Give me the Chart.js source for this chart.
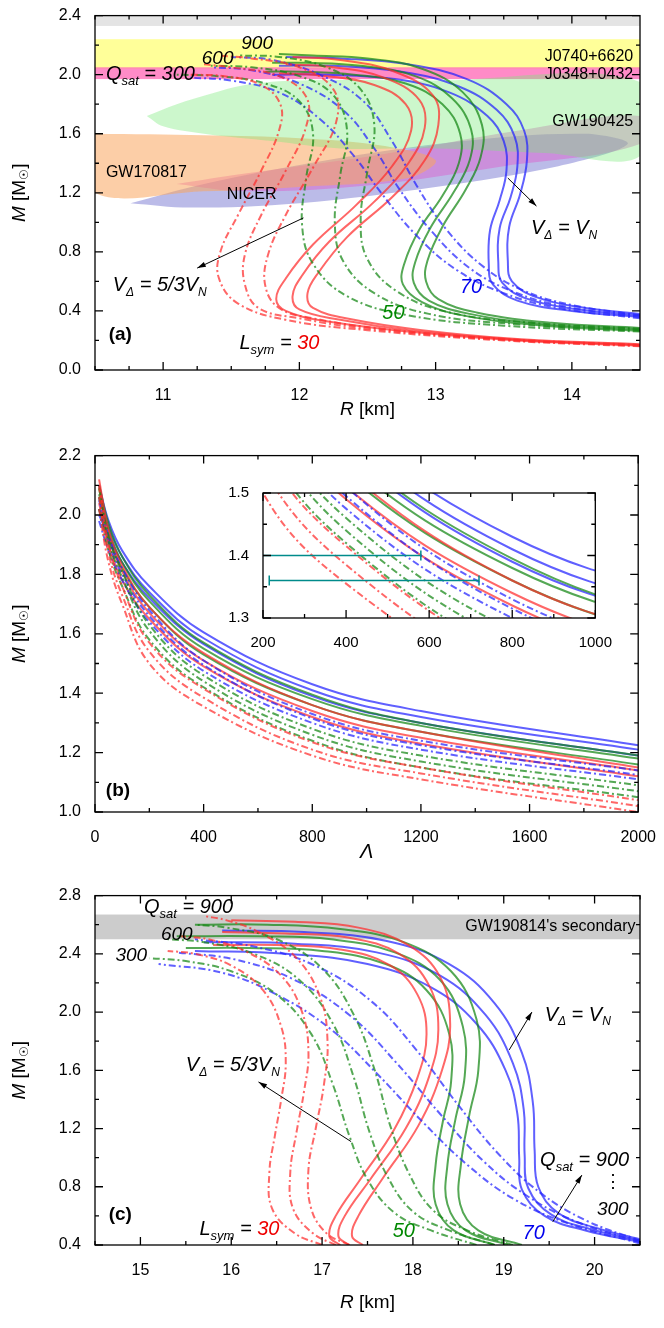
<!DOCTYPE html>
<html><head><meta charset="utf-8">
<script src="https://cdn.jsdelivr.net/npm/chart.js@4.4.1/dist/chart.umd.min.js"></script>
<style>
body{margin:0;background:#fff;width:664px;height:1328px;overflow:hidden;position:relative;font-family:"Liberation Sans",Arial,sans-serif}
.p{position:absolute}
</style></head><body>
<div class="p" style="left:0;top:0;width:664px;height:440px"><canvas id="ca"></canvas></div>
<div class="p" style="left:0;top:440px;width:664px;height:440px"><canvas id="cb"></canvas></div>
<div class="p" style="left:225px;top:478px;width:395px;height:175px"><canvas id="ci"></canvas></div>
<div class="p" style="left:0;top:880px;width:664px;height:448px"><canvas id="cc"></canvas></div>
<script>
// ---------- Panel (a): M-R, R in km ----------
const aXMajor=[11,12,13,14], aXMinor=[10.5,10.75,11.25,11.5,11.75,12.25,12.5,12.75,13.25,13.5,13.75,14.25];
const aYMajor=[0,0.4,0.8,1.2,1.6,2.0,2.4], aYMinor=[0.2,0.6,1.0,1.4,1.8,2.2];
const a_red_solid=[
 [[14.5,0.165],[13.6,0.2],[12.8,0.26],[12.2,0.33],[11.9,0.4],[11.83,0.48],[11.9,0.62],[12.1,0.85],[12.42,1.12],[12.68,1.38],[12.82,1.62],[12.78,1.8],[12.55,1.93],[12.2,1.99],[11.85,2.01]],
 [[14.5,0.17],[13.6,0.205],[12.8,0.27],[12.3,0.34],[12.0,0.41],[11.95,0.5],[12.02,0.64],[12.22,0.87],[12.55,1.14],[12.8,1.4],[12.92,1.64],[12.88,1.83],[12.62,1.98],[12.25,2.05],[11.9,2.07]],
 [[14.5,0.175],[13.6,0.21],[12.9,0.27],[12.4,0.34],[12.1,0.42],[12.06,0.52],[12.14,0.66],[12.35,0.9],[12.68,1.17],[12.92,1.42],[13.02,1.66],[12.98,1.86],[12.7,2.02],[12.3,2.1],[11.95,2.12]]];
const a_red_dd=[
 [[14.5,0.16],[13.5,0.2],[12.5,0.27],[11.9,0.34],[11.55,0.45],[11.41,0.62],[11.42,0.8],[11.55,1.05],[11.72,1.35],[11.85,1.62],[11.86,1.8],[11.72,1.93],[11.45,1.99],[11.2,2.0]],
 [[14.5,0.165],[13.5,0.205],[12.5,0.28],[12.0,0.35],[11.7,0.42],[11.6,0.58],[11.6,0.78],[11.72,1.05],[11.9,1.35],[12.05,1.65],[12.05,1.85],[11.85,1.99],[11.5,2.05],[11.3,2.07]],
 [[14.5,0.17],[13.5,0.21],[12.6,0.28],[12.1,0.35],[11.85,0.42],[11.75,0.57],[11.77,0.78],[11.9,1.05],[12.1,1.37],[12.27,1.68],[12.25,1.9],[12.0,2.05],[11.65,2.11],[11.4,2.13]]];
const a_green_solid=[
 [[14.5,0.265],[13.8,0.3],[13.2,0.37],[12.9,0.46],[12.76,0.58],[12.77,0.72],[12.88,0.95],[13.05,1.18],[13.17,1.4],[13.18,1.6],[13.05,1.8],[12.78,1.94],[12.4,2.0],[12.0,2.02],[11.75,2.02]],
 [[14.5,0.275],[13.8,0.31],[13.25,0.38],[12.95,0.47],[12.84,0.59],[12.85,0.73],[12.96,0.96],[13.13,1.2],[13.25,1.42],[13.26,1.63],[13.12,1.84],[12.85,1.99],[12.45,2.06],[12.05,2.08],[11.8,2.08]],
 [[14.5,0.285],[13.85,0.32],[13.3,0.39],[13.02,0.48],[12.93,0.6],[12.94,0.74],[13.05,0.97],[13.22,1.22],[13.33,1.44],[13.34,1.66],[13.2,1.88],[12.9,2.04],[12.5,2.11],[12.1,2.13],[11.85,2.14]]];
const a_green_dd=[
 [[14.5,0.26],[13.5,0.3],[12.8,0.37],[12.35,0.5],[12.1,0.72],[12.02,0.98],[12.05,1.3],[12.1,1.6],[12.0,1.82],[11.75,1.94],[11.4,1.99],[11.1,2.0]],
 [[14.5,0.27],[13.6,0.31],[12.95,0.38],[12.55,0.52],[12.32,0.74],[12.26,1.0],[12.3,1.32],[12.35,1.62],[12.25,1.86],[12.0,1.99],[11.65,2.05],[11.35,2.06]],
 [[14.5,0.28],[13.7,0.32],[13.1,0.39],[12.72,0.53],[12.5,0.75],[12.45,1.02],[12.5,1.35],[12.55,1.66],[12.45,1.9],[12.2,2.05],[11.85,2.12],[11.55,2.13]]];
const a_blue_solid=[
 [[14.5,0.36],[14.0,0.4],[13.6,0.47],[13.42,0.58],[13.39,0.72],[13.4,0.95],[13.47,1.15],[13.52,1.35],[13.5,1.55],[13.38,1.72],[13.1,1.88],[12.7,1.97],[12.2,2.0],[11.8,2.0]],
 [[14.5,0.37],[14.05,0.41],[13.68,0.48],[13.49,0.59],[13.46,0.73],[13.47,0.96],[13.55,1.17],[13.6,1.38],[13.58,1.58],[13.45,1.76],[13.17,1.92],[12.75,2.02],[12.25,2.06],[11.85,2.06]],
 [[14.5,0.38],[14.1,0.42],[13.75,0.49],[13.56,0.6],[13.53,0.74],[13.54,0.97],[13.62,1.19],[13.67,1.42],[13.65,1.62],[13.52,1.8],[13.23,1.97],[12.8,2.07],[12.3,2.11],[11.9,2.12]]];
const a_blue_dd=[
 [[14.5,0.35],[13.9,0.42],[13.5,0.52],[13.15,0.68],[12.85,0.92],[12.6,1.2],[12.4,1.45],[12.15,1.7],[11.85,1.88],[11.5,1.96],[11.2,1.98]],
 [[14.5,0.36],[13.95,0.43],[13.57,0.53],[13.25,0.69],[12.97,0.94],[12.73,1.23],[12.55,1.5],[12.32,1.76],[12.0,1.94],[11.65,2.03],[11.35,2.05]],
 [[14.5,0.37],[14.0,0.44],[13.64,0.54],[13.35,0.7],[13.08,0.95],[12.86,1.25],[12.68,1.55],[12.47,1.82],[12.15,2.0],[11.8,2.1],[11.5,2.12]]];
const a_gw190425=[[10.88,1.72],[11.1,1.8],[11.35,1.87],[11.6,1.93],[12.0,1.96],[13.0,1.96],[14.5,1.95],[14.5,1.45],[13.8,1.47],[13.0,1.5],[12.3,1.5],[11.8,1.55],[11.3,1.6],[11.0,1.65]];
const a_gw170817=[[10.5,1.6],[11.3,1.59],[12.0,1.57],[12.6,1.52],[13.0,1.42],[12.8,1.3],[12.0,1.24],[11.3,1.21],[10.5,1.2]];
const a_nicer=[[10.76,1.13],[11.2,1.1],[12.0,1.13],[13.0,1.24],[13.9,1.38],[14.41,1.53],[14.1,1.6],[13.2,1.55],[12.2,1.42],[11.3,1.26]];
const a_pinkell=[[11.1,1.26],[11.6,1.21],[12.5,1.25],[13.5,1.38],[14.5,1.53],[14.5,1.72],[13.6,1.62],[12.6,1.46],[11.6,1.33]];
const a_bands=[[2.33,2.4,'#e4e4e4'],[2.04,2.24,'#ffff99'],[1.97,2.05,'rgba(255,110,185,0.8)']];

// ---------- Panel (b): M - Lambda ----------
const bLambda=[15,50,100,200,400,800,1200,2000];
const bXMajor=[0,400,800,1200,1600,2000], bXMinor=[200,600,1000,1400,1800];
const bYMajor=[1.0,1.2,1.4,1.6,1.8,2.0,2.2], bYMinor=[1.1,1.3,1.5,1.7,1.9,2.1];
const b_red_dd=[[2.02,1.84,1.7,1.5,1.355,1.19,1.11,1.0],[2.06,1.87,1.73,1.54,1.385,1.21,1.13,1.02],[2.1,1.9,1.76,1.57,1.415,1.235,1.15,1.04]];
const b_green_dd=[[2.02,1.88,1.76,1.58,1.42,1.24,1.15,1.05],[2.06,1.91,1.79,1.61,1.44,1.26,1.17,1.07],[2.09,1.93,1.81,1.63,1.46,1.28,1.19,1.09]];
const b_blue_dd=[[1.98,1.88,1.78,1.64,1.475,1.3,1.21,1.11],[2.02,1.91,1.8,1.66,1.495,1.315,1.225,1.125],[2.05,1.93,1.82,1.68,1.51,1.33,1.24,1.14]];
const b_red_solid=[[2.04,1.9,1.78,1.65,1.49,1.32,1.23,1.12],[2.09,1.93,1.81,1.67,1.51,1.34,1.25,1.14],[2.12,1.95,1.83,1.69,1.535,1.36,1.27,1.15]];
const b_green_solid=[[2.02,1.92,1.82,1.69,1.53,1.36,1.27,1.16],[2.07,1.95,1.84,1.71,1.55,1.38,1.29,1.18],[2.1,1.97,1.86,1.73,1.57,1.395,1.3,1.19]];
const b_blue_solid=[[2.0,1.93,1.84,1.72,1.565,1.39,1.3,1.19],[2.06,1.96,1.86,1.74,1.585,1.41,1.32,1.21],[2.1,1.98,1.88,1.76,1.605,1.43,1.34,1.225]];
const iXMajor=[200,400,600,800,1000], iXMinor=[300,500,700,900];
const iYMajor=[1.3,1.4,1.5], iYMinor=[1.35,1.45];
const i_errbars=[[1.4,70,580],[1.36,215,720]];

// ---------- Panel (c) ----------
const cXMajor=[15,16,17,18,19,20], cXMinor=[14.5,15.5,16.5,17.5,18.5,19.5,20.5];
const cYMajor=[0.4,0.8,1.2,1.6,2.0,2.4,2.8], cYMinor=[0.6,1.0,1.4,1.8,2.2,2.6];
const c_red_solid=[
 [[17.2,0.4],[17.08,0.46],[17.15,0.6],[17.42,0.85],[17.8,1.2],[18.05,1.55],[18.15,1.85],[18.05,2.12],[17.75,2.32],[17.2,2.43],[16.5,2.46],[15.8,2.46]],
 [[17.3,0.4],[17.18,0.46],[17.25,0.6],[17.53,0.85],[17.92,1.2],[18.18,1.56],[18.28,1.88],[18.18,2.18],[17.85,2.4],[17.3,2.51],[16.6,2.54],[15.9,2.55]],
 [[17.45,0.4],[17.33,0.46],[17.4,0.6],[17.67,0.86],[18.06,1.22],[18.32,1.6],[18.41,1.92],[18.3,2.24],[17.95,2.46],[17.4,2.58],[16.7,2.62],[16.0,2.63]]];
const c_red_dd=[
 [[17.0,0.4],[16.7,0.48],[16.45,0.65],[16.42,0.9],[16.48,1.15],[16.55,1.4],[16.6,1.65],[16.55,1.9],[16.35,2.15],[16.0,2.32],[15.6,2.4],[15.3,2.42]],
 [[17.15,0.4],[16.9,0.48],[16.68,0.65],[16.65,0.9],[16.72,1.18],[16.8,1.45],[16.85,1.72],[16.78,2.0],[16.55,2.25],[16.15,2.42],[15.75,2.5],[15.45,2.52]],
 [[17.3,0.4],[17.05,0.48],[16.88,0.65],[16.85,0.92],[16.93,1.2],[17.02,1.5],[17.06,1.8],[16.98,2.1],[16.72,2.37],[16.3,2.55],[15.95,2.63],[15.7,2.66]]];
const c_green_solid=[
 [[18.9,0.4],[18.45,0.5],[18.25,0.68],[18.25,0.95],[18.33,1.25],[18.42,1.52],[18.4,1.85],[18.15,2.15],[17.7,2.33],[17.0,2.42],[16.2,2.44],[15.5,2.44]],
 [[19.05,0.4],[18.58,0.5],[18.38,0.68],[18.38,0.95],[18.47,1.27],[18.57,1.56],[18.55,1.9],[18.3,2.22],[17.8,2.41],[17.1,2.5],[16.3,2.52],[15.4,2.52]],
 [[19.2,0.4],[18.72,0.5],[18.52,0.68],[18.53,0.96],[18.62,1.29],[18.72,1.6],[18.7,1.95],[18.42,2.28],[17.9,2.48],[17.2,2.57],[16.4,2.6],[15.6,2.6]]];
const c_green_dd=[
 [[18.7,0.4],[18.2,0.5],[17.8,0.62],[17.5,0.85],[17.3,1.15],[17.12,1.5],[16.88,1.85],[16.5,2.12],[16.0,2.28],[15.5,2.35],[15.1,2.37]],
 [[18.9,0.4],[18.4,0.5],[18.0,0.63],[17.72,0.87],[17.52,1.18],[17.35,1.55],[17.12,1.92],[16.75,2.22],[16.25,2.4],[15.7,2.48],[15.3,2.5]],
 [[19.1,0.4],[18.6,0.5],[18.22,0.64],[17.95,0.9],[17.75,1.22],[17.58,1.6],[17.35,1.98],[17.0,2.3],[16.5,2.5],[15.95,2.58],[15.6,2.6]]];
const c_blue_solid=[
 [[20.5,0.42],[19.9,0.5],[19.45,0.6],[19.2,0.78],[19.17,1.0],[19.15,1.3],[19.02,1.6],[18.7,1.92],[18.2,2.17],[17.5,2.33],[16.6,2.4],[15.6,2.42]],
 [[20.5,0.43],[19.95,0.51],[19.52,0.61],[19.27,0.79],[19.23,1.02],[19.22,1.33],[19.1,1.65],[18.8,1.98],[18.3,2.25],[17.6,2.41],[16.7,2.47],[15.7,2.48]],
 [[20.5,0.44],[20.0,0.52],[19.6,0.62],[19.38,0.8],[19.34,1.05],[19.32,1.38],[19.2,1.72],[18.9,2.06],[18.4,2.33],[17.7,2.49],[16.8,2.55],[15.9,2.56]]];
const c_blue_dd=[
 [[20.5,0.41],[19.7,0.55],[19.1,0.72],[18.6,0.95],[18.1,1.25],[17.6,1.58],[17.1,1.88],[16.5,2.12],[15.9,2.27],[15.2,2.33]],
 [[20.5,0.42],[19.8,0.56],[19.25,0.74],[18.77,0.98],[18.3,1.3],[17.82,1.65],[17.32,1.97],[16.7,2.22],[16.05,2.36],[15.4,2.41]],
 [[20.5,0.43],[19.9,0.57],[19.4,0.76],[18.95,1.02],[18.5,1.36],[18.05,1.73],[17.55,2.07],[16.92,2.32],[16.25,2.45],[15.6,2.5]]];
const c_bands=[[2.5,2.67,'#cccccc']];

// ---------- helpers ----------
const RED='rgba(255,45,45,0.72)', GREEN='rgba(20,135,20,0.72)', BLUE='rgba(35,35,255,0.72)';
const FONT='"Liberation Sans", Arial, sans-serif';
function ln(pts,color,dd){return {data:pts.map(p=>({x:p[0],y:p[1]})),borderColor:color,borderWidth:2,borderDash:dd?[7,3,2,3]:[],showLine:true,pointRadius:0,tension:0.4,fill:false,order:0};}
function region(pts,color){return {data:pts.concat([pts[0]]).map(p=>({x:p[0],y:p[1]})),borderColor:'rgba(0,0,0,0)',borderWidth:0,backgroundColor:color,showLine:true,pointRadius:0,tension:0.35,fill:'shape',order:5};}
function curves(groups){const out=[];groups.forEach(g=>g[0].forEach(c=>out.push(ln(c,g[1],g[2]))));return out;}
function lamCurves(groups){const out=[];groups.forEach(g=>g[0].forEach(c=>out.push(ln(c.map((m,i)=>[bLambda[i],m]),g[1],g[2]))));return out;}
function runs(ctx,x,y,rr,align){
  let w=0; rr.forEach(r=>{ctx.font=(r[2]||'')+' '+r[1]+'px '+FONT; w+=ctx.measureText(r[0]).width;});
  let cx = align==='center'?x-w/2:(align==='right'?x-w:x);
  ctx.textBaseline='middle'; ctx.textAlign='left';
  rr.forEach(r=>{ctx.font=(r[2]||'')+' '+r[1]+'px '+FONT; ctx.fillStyle=r[4]||'#000'; ctx.fillText(r[0],cx,y+(r[3]||0)); cx+=ctx.measureText(r[0]).width;});
}
function arrow(ctx,x1,y1,x2,y2){
  ctx.strokeStyle='#000';ctx.fillStyle='#000';ctx.lineWidth=1;ctx.setLineDash([]);
  ctx.beginPath();ctx.moveTo(x1,y1);ctx.lineTo(x2,y2);ctx.stroke();
  const a=Math.atan2(y2-y1,x2-x1),L=9;
  ctx.beginPath();ctx.moveTo(x2,y2);ctx.lineTo(x2-L*Math.cos(a-0.3),y2-L*Math.sin(a-0.3));ctx.lineTo(x2-L*Math.cos(a+0.3),y2-L*Math.sin(a+0.3));ctx.closePath();ctx.fill();
}
const deco={id:'deco',
 beforeDraw(ch,a,o){const ctx=ch.ctx,ca=ch.chartArea; if(o.white){ctx.save();ctx.fillStyle='#fff';ctx.fillRect(ca.left,ca.top,ca.right-ca.left,ca.bottom-ca.top);ctx.restore();}},
 beforeDatasetsDraw(ch,a,o){const ctx=ch.ctx,ca=ch.chartArea,ys=ch.scales.y;ctx.save();
  (o.bands||[]).forEach(b=>{ctx.fillStyle=b[2];const t=Math.max(ys.getPixelForValue(b[1]),ca.top);ctx.fillRect(ca.left,t,ca.right-ca.left,ys.getPixelForValue(b[0])-t);});ctx.restore();},
 afterDatasetsDraw(ch,a,o){const ctx=ch.ctx,ca=ch.chartArea,xs=ch.scales.x,ys=ch.scales.y;ctx.save();
  (o.err||[]).forEach(e=>{ctx.save();ctx.beginPath();ctx.rect(ca.left,ca.top,ca.right-ca.left,ca.bottom-ca.top);ctx.clip();
    ctx.strokeStyle='#008b8b';ctx.lineWidth=1.5;const y=ys.getPixelForValue(e[0]),x1=xs.getPixelForValue(e[1]),x2=xs.getPixelForValue(e[2]);
    ctx.beginPath();ctx.moveTo(x1,y);ctx.lineTo(x2,y);ctx.moveTo(x1,y-5);ctx.lineTo(x1,y+5);ctx.moveTo(x2,y-5);ctx.lineTo(x2,y+5);ctx.stroke();ctx.restore();});
  ctx.strokeStyle='#000';ctx.lineWidth=1.3;ctx.setLineDash([]);
  ctx.strokeRect(ca.left,ca.top,ca.right-ca.left,ca.bottom-ca.top);
  ctx.beginPath();
  const tk=(vals,len)=>{vals.forEach(v=>{const x=xs.getPixelForValue(v);ctx.moveTo(x,ca.bottom);ctx.lineTo(x,ca.bottom-len);ctx.moveTo(x,ca.top);ctx.lineTo(x,ca.top+len);});};
  const tky=(vals,len)=>{vals.forEach(v=>{const y=ys.getPixelForValue(v);ctx.moveTo(ca.left,y);ctx.lineTo(ca.left+len,y);ctx.moveTo(ca.right,y);ctx.lineTo(ca.right-len,y);});};
  tk(o.xMaj,8);tk(o.xMin,4);tky(o.yMaj,8);tky(o.yMin,4);ctx.stroke();
  (o.notes||[]).forEach(n=>runs(ctx,xs.getPixelForValue(n[0]),ys.getPixelForValue(n[1]),n[2],n[3]));
  (o.arrows||[]).forEach(r=>arrow(ctx,xs.getPixelForValue(r[0]),ys.getPixelForValue(r[1]),xs.getPixelForValue(r[2]),ys.getPixelForValue(r[3])));
  if(o.ytitle){ctx.save();ctx.translate(o.ytitle[0],(ca.top+ca.bottom)/2);ctx.rotate(-Math.PI/2);
    runs(ctx,0,0,[['M',19,'italic'],[' [M',19,''],['\u2609',12,'',5],[']',19,'']],'center');ctx.restore();}
  if(o.xtitle){runs(ctx,(ca.left+ca.right)/2,ca.bottom+o.xtitle[0],o.xtitle[1],'center');}
  ctx.restore();}
};
function mk(id,datasets,xr,yr,xMaj,yMaj,dec,o,fit,tsize){
  const xfit=fit[0], yfit=fit[1];
  return new Chart(document.getElementById(id),{type:'scatter',data:{datasets},plugins:[deco],
   options:{responsive:true,maintainAspectRatio:false,animation:false,
    layout:{padding:{top:fit[2],right:fit[3],left:0,bottom:0}},
    plugins:{legend:{display:false},tooltip:{enabled:false},deco:o},
    scales:{
     x:{type:'linear',min:xr[0],max:xr[1],grid:{display:false},border:{display:false},
        afterBuildTicks:s=>{s.ticks=xMaj.map(v=>({value:v}));},afterFit:s=>{s.height=xfit;},
        ticks:{color:'#000',font:{size:tsize,family:FONT},padding:8,maxRotation:0,autoSkip:false,callback:v=>String(v)}},
     y:{type:'linear',min:yr[0],max:yr[1],grid:{display:false},border:{display:false},
        afterBuildTicks:s=>{s.ticks=yMaj.map(v=>({value:v}));},afterFit:s=>{s.width=yfit;},
        ticks:{color:'#000',font:{size:tsize,family:FONT},padding:6,autoSkip:false,callback:v=>v.toFixed(dec)}}}}});
}
const I='italic';
mk('ca',[region(a_gw190425,'rgba(120,235,120,0.38)'),region(a_gw170817,'rgba(250,165,95,0.55)'),region(a_pinkell,'rgba(225,80,200,0.42)'),region(a_nicer,'rgba(105,105,205,0.45)')].concat(
 curves([[a_red_dd,RED,true],[a_green_dd,GREEN,true],[a_blue_dd,BLUE,true],[a_red_solid,RED,false],[a_green_solid,GREEN,false],[a_blue_solid,BLUE,false]])),
 [10.5,14.5],[0,2.4],aXMajor,aYMajor,1,
 {bands:a_bands,xMaj:aXMajor,xMin:aXMinor,yMaj:aYMajor,yMin:aYMinor,ytitle:[20],xtitle:[40,[['R',19,I],[' [km]',19,'']]],
  notes:[[10.58,2.0,[['Q',20,I],['sat',13,I,7],[' = 300',20,I]],'left'],[11.4,2.11,[['600',19,I]],'center'],[11.69,2.21,[['900',19,I]],'center'],
   [14.45,2.12,[['J0740+6620',16,'']],'right'],[14.45,2.0,[['J0348+0432',16,'']],'right'],[14.45,1.68,[['GW190425',16,'']],'right'],
   [10.58,1.34,[['GW170817',16,'']],'left'],[11.65,1.19,[['NICER',16,'']],'center'],
   [13.7,0.96,[['V',20,I],['\u0394',12,I,7],[' = V',20,I],['N',12,I,7]],'left'],
   [10.63,0.57,[['V',20,I],['\u0394',12,I,7],[' = 5/3V',20,I],['N',12,I,7]],'left'],
   [10.6,0.24,[['(a)',19,'bold']],'left'],
   [11.56,0.18,[['L',20,I],['sym',13,I,7],[' = ',20,I],['30',20,I,0,'#e00']],'left'],
   [12.69,0.38,[['50',20,I,0,'#080']],'center'],[13.26,0.56,[['70',20,I,0,'#00e']],'center']],
  arrows:[[13.53,1.3,13.74,1.11],[12.03,1.03,11.25,0.69]]},
 [70,95,12,24],16);
const bSets=()=>lamCurves([[b_red_dd,RED,true],[b_green_dd,GREEN,true],[b_blue_dd,BLUE,true],[b_red_solid,RED,false],[b_green_solid,GREEN,false],[b_blue_solid,BLUE,false]]);
mk('cb',bSets(),[0,2000],[1.0,2.2],bXMajor,bYMajor,1,
 {xMaj:bXMajor,xMin:bXMinor,yMaj:bYMajor,yMin:bYMinor,ytitle:[20],xtitle:[40,[['\u039B',20,I]]],
  notes:[[40,1.07,[['(b)',19,'bold']],'left']]},[68,95,5,24],16);
mk('ci',bSets(),[200,1000],[1.3,1.5],iXMajor,iYMajor,1,
 {white:true,err:i_errbars,xMaj:iXMajor,xMin:iXMinor,yMaj:iYMajor,yMin:iYMinor},[35,38,9,22],15);
mk('cc',curves([[c_red_dd,RED,true],[c_green_dd,GREEN,true],[c_blue_dd,BLUE,true],[c_red_solid,RED,false],[c_green_solid,GREEN,false],[c_blue_solid,BLUE,false]]),
 [14.5,20.5],[0.4,2.8],cXMajor,cYMajor,1,
 {bands:c_bands,xMaj:cXMajor,xMin:cXMinor,yMaj:cYMajor,yMin:cYMinor,ytitle:[20],xtitle:[58,[['R',19,I],[' [km]',19,'']]],
  notes:[[15.04,2.72,[['Q',20,I],['sat',13,I,7],[' = 900',20,I]],'left'],[15.4,2.53,[['600',19,I]],'center'],[14.9,2.39,[['300',19,I]],'center'],
   [20.45,2.585,[["GW190814's secondary",16,'']],'right'],
   [19.45,1.98,[['V',20,I],['\u0394',12,I,7],[' = V',20,I],['N',12,I,7]],'left'],
   [15.5,1.63,[['V',20,I],['\u0394',12,I,7],[' = 5/3V',20,I],['N',12,I,7]],'left'],
   [19.4,0.98,[['Q',20,I],['sat',13,I,7],[' = 900',20,I]],'left'],[20.2,0.83,[['\u22EE',18,'']],'center'],[20.2,0.64,[['300',19,I]],'center'],
   [14.65,0.61,[['(c)',19,'bold']],'left'],
   [15.65,0.51,[['L',20,I],['sym',13,I,7],[' = ',20,I],['30',20,I,0,'#e00']],'left'],
   [17.9,0.49,[['50',20,I,0,'#080']],'center'],[19.33,0.48,[['70',20,I,0,'#00e']],'center']],
  arrows:[[19.06,1.74,19.31,2.0],[17.32,1.11,16.3,1.52],[19.54,0.56,19.86,0.88]]},
 [83,95,10,24],16);
</script></body></html>
